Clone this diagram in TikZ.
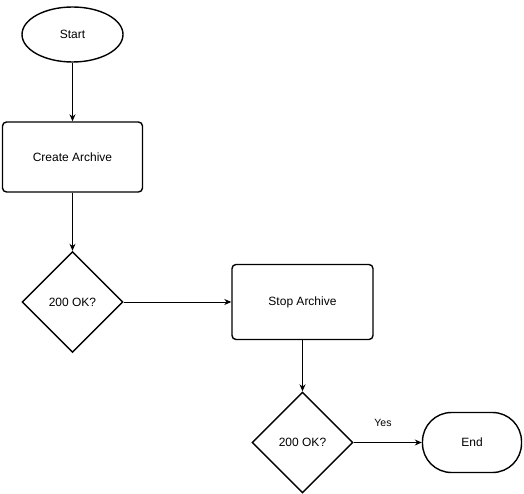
\documentclass[tikz,border=0pt]{standalone}
\usepackage{fontspec}
\setmainfont{Liberation Sans}
\usetikzlibrary{shapes.geometric,arrows.meta}
\begin{document}
\begin{tikzpicture}[x=1pt,y=-1pt,
  every node/.style={font=\fontsize{12}{14}\selectfont, inner sep=0pt},
  shp/.style={draw, line width=1.4pt},
  term/.style={shp, ellipse, minimum width=101pt, minimum height=55pt},
  proc/.style={shp, rectangle, rounded corners=4pt},
  dec/.style={shp, diamond, minimum width=101pt, minimum height=101pt},
  stadium/.style={shp, rectangle, rounded corners=29pt, minimum width=99pt, minimum height=60pt},
  conn/.style={draw, line width=0.9pt, -{Stealth[length=7pt,width=6pt]}}]
\useasboundingbox (0,0) rectangle (524,494);
\node[term] (start) at (72.5,34.5) {Start};
\node[proc, minimum width=140pt, minimum height=70pt] (create) at (72.5,157) {Create Archive};
\node[dec] (d1) at (72.5,302) {200 OK?};
\node[proc, minimum width=141pt, minimum height=75pt] (stop) at (302.5,302) {Stop Archive};
\node[dec] (d2) at (302.5,442.5) {200 OK?};
\node[stadium] (end) at (472,442.5) {End};
\draw[conn] (start) -- (create);
\draw[conn] (create) -- (d1);
\draw[conn] (d1) -- (stop);
\draw[conn] (stop) -- (d2);
\draw[conn] (d2) -- (end);
\node[font=\fontsize{10.5}{12}\selectfont] (yes) at (383,423) {Yes};
\end{tikzpicture}
\end{document}
